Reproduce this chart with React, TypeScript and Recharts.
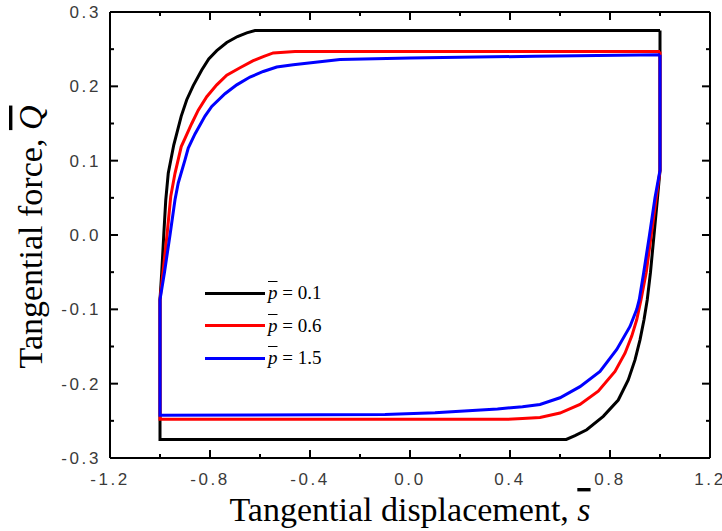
import React from 'react';
import { LineChart, Line, XAxis, YAxis, Legend } from 'recharts';

// ---- axis ticks ----
const xTicks = [-1.2, -1.0, -0.8, -0.6, -0.4, -0.2, 0, 0.2, 0.4, 0.6, 0.8, 1.0, 1.2];
const xTickLabels = ['-1.2', '', '-0.8', '', '-0.4', '', '0.0', '', '0.4', '', '0.8', '', '1.2'];
const yTicks = [-0.3, -0.25, -0.2, -0.15, -0.1, -0.05, 0, 0.05, 0.1, 0.15, 0.2, 0.25, 0.3];
const yTickLabels = ['-0.3', '', '-0.2', '', '-0.1', '', '0.0', '', '0.1', '', '0.2', '', '0.3'];

// ---- series names (p values) ----
const seriesNames = ['0.1', '0.6', '1.5'];

// ---- loop data: [s, Q] in drawing order ----
const loopP01: [number, number][] = [
  [1.0, 0.275], [-0.62, 0.275], [-0.653, 0.272], [-0.69, 0.267], [-0.733, 0.259],
  [-0.773, 0.248], [-0.805, 0.237], [-0.833, 0.222], [-0.867, 0.201], [-0.893, 0.182],
  [-0.915, 0.16], [-0.945, 0.121], [-0.967, 0.083], [-0.977, 0.047], [-0.985, 0.0],
  [-0.993, -0.05], [-1.0, -0.087], [-1.0, -0.275], [0.625, -0.275], [0.66, -0.27],
  [0.707, -0.262], [0.773, -0.244], [0.833, -0.222], [0.873, -0.195], [0.9, -0.168],
  [0.92, -0.141], [0.936, -0.114], [0.949, -0.087], [0.962, -0.05], [0.976, 0.0],
  [0.99, 0.05], [1.0, 0.087], [1.0, 0.275],
];

const loopP06: [number, number][] = [
  [1.0, 0.247], [-0.46, 0.247], [-0.547, 0.245], [-0.587, 0.24], [-0.627, 0.2345],
  [-0.68, 0.225], [-0.733, 0.215], [-0.773, 0.202], [-0.813, 0.186], [-0.847, 0.168],
  [-0.873, 0.15], [-0.9, 0.13], [-0.915, 0.119], [-0.94, 0.083], [-0.957, 0.052],
  [-0.972, 0.0], [-0.988, -0.05], [-1.0, -0.087], [-1.0, -0.248], [0.38, -0.248],
  [0.45, -0.247], [0.52, -0.2455], [0.6, -0.2395], [0.68, -0.228], [0.753, -0.21],
  [0.82, -0.1835], [0.86, -0.159], [0.887, -0.136], [0.907, -0.114], [0.924, -0.087],
  [0.945, -0.05], [0.965, 0.0], [0.985, 0.05], [1.0, 0.087], [1.0, 0.247],
];

const loopP15: [number, number][] = [
  [1.0, 0.2425], [0.5, 0.2405], [0.0, 0.238], [-0.28, 0.236], [-0.387, 0.232],
  [-0.467, 0.229], [-0.533, 0.226], [-0.587, 0.22], [-0.64, 0.2125], [-0.693, 0.202],
  [-0.74, 0.19], [-0.793, 0.173], [-0.82, 0.16], [-0.86, 0.136], [-0.887, 0.117],
  [-0.9, 0.101], [-0.927, 0.07], [-0.94, 0.0475], [-0.96, 0.0], [-0.982, -0.05],
  [-1.0, -0.087], [-1.0, -0.2425], [-0.1, -0.2415], [0.1, -0.239], [0.35, -0.234],
  [0.45, -0.231], [0.52, -0.228], [0.6, -0.219], [0.68, -0.204], [0.76, -0.1835],
  [0.827, -0.154], [0.88, -0.123], [0.907, -0.1], [0.917, -0.087], [0.935, -0.05],
  [0.958, 0.0], [0.98, 0.05], [1.0, 0.087], [1.0, 0.2425],
];

const toRows = (pts: [number, number][]) => pts.map(([s, q]) => ({ s, q }));

const colors = ['#000000', '#ff0000', '#0000ff'];
const loops = [loopP01, loopP06, loopP15];

const SERIF = '"Liberation Serif", "Times New Roman", serif';
const SANS = '"Liberation Sans", Arial, sans-serif';

const findIdx = (arr: number[], v: number) => arr.findIndex((t) => Math.abs(t - v) < 1e-9);

const BottomTick = (props: any) => {
  const { x, y, payload } = props;
  const i = findIdx(xTicks, payload.value);
  const label = xTickLabels[i] || '';
  const major = label !== '';
  return (
    <g>
      <line x1={x} y1={y} x2={x} y2={y - (major ? 8 : 4)} stroke="#000" strokeWidth={2} />
      {major && (
        <text x={x} y={y + 27} textAnchor="middle" fontFamily={SANS} fontSize={17} fill="#3a3a3a" letterSpacing={2.6}>
          {label}
        </text>
      )}
    </g>
  );
};

const TopTick = (props: any) => {
  const { x, y, payload } = props;
  const i = findIdx(xTicks, payload.value);
  const major = (xTickLabels[i] || '') !== '';
  return <line x1={x} y1={y} x2={x} y2={y + (major ? 8 : 4)} stroke="#000" strokeWidth={2} />;
};

const LeftTick = (props: any) => {
  const { x, y, payload } = props;
  const i = findIdx(yTicks, payload.value);
  const label = yTickLabels[i] || '';
  const major = label !== '';
  return (
    <g>
      <line x1={x} y1={y} x2={x + (major ? 8 : 4)} y2={y} stroke="#000" strokeWidth={2} />
      {major && (
        <text x={x - 9} y={y + 6} textAnchor="end" fontFamily={SANS} fontSize={17} fill="#3a3a3a" letterSpacing={2.6}>
          {label}
        </text>
      )}
    </g>
  );
};

const RightTick = (props: any) => {
  const { x, y, payload } = props;
  const i = findIdx(yTicks, payload.value);
  const major = (yTickLabels[i] || '') !== '';
  return <line x1={x} y1={y} x2={x - (major ? 8 : 4)} y2={y} stroke="#000" strokeWidth={2} />;
};

const XTitle = (props: any) => {
  const vb = props.viewBox || { x: 110, y: 458, width: 600, height: 73 };
  const cx = vb.x + vb.width / 2;
  return (
    <text x={cx} y={vb.y + 63} textAnchor="middle" fontFamily={SERIF} fontSize={34} fill="#000">
      Tangential displacement,{' '}
      <tspan fontStyle="italic" style={{ textDecoration: 'overline' }}>s</tspan>
    </text>
  );
};

const YTitle = (props: any) => {
  const vb = props.viewBox || { x: 0, y: 12, width: 110, height: 446 };
  const cx = 42;
  const cy = vb.y + vb.height / 2 + 2;
  return (
    <text x={cx} y={cy} textAnchor="middle" transform={`rotate(-90, ${cx}, ${cy})`} fontFamily={SERIF} fontSize={34} fill="#000">
      Tangential force,{' '}
      <tspan fontStyle="italic" style={{ textDecoration: 'overline' }}>Q</tspan>
    </text>
  );
};

const renderLegend = (props: any) => {
  const payload = props.payload || [];
  return (
    <div>
      {payload.map((p: any, i: number) => (
        <div key={i} style={{ display: 'flex', alignItems: 'center', height: 32.5 }}>
          <div style={{ width: 60, height: 3, background: p.color }} />
          <span style={{ marginLeft: 3, fontFamily: SERIF, fontSize: 19, color: '#000', whiteSpace: 'nowrap' }}>
            <span style={{ fontStyle: 'italic', textDecoration: 'overline' }}>p</span> = {p.value}
          </span>
        </div>
      ))}
    </div>
  );
};

export default function App() {
  return (
    <div style={{ position: 'absolute', left: 0, top: 0, width: 722, height: 531, background: '#fff' }}>
      <LineChart width={722} height={531} margin={{ top: 11, right: 11, bottom: 0, left: 0 }}>
        <XAxis
          xAxisId={0}
          type="number"
          dataKey="s"
          domain={[-1.2, 1.2]}
          ticks={xTicks}
          interval={0}
          allowDataOverflow
          height={73}
          tickSize={0}
          tickMargin={0}
          tick={<BottomTick />}
          axisLine={{ stroke: '#000', strokeWidth: 2 }}
          label={<XTitle />}
        />
        <XAxis
          xAxisId="top"
          orientation="top"
          type="number"
          dataKey="s"
          domain={[-1.2, 1.2]}
          ticks={xTicks}
          interval={0}
          allowDataOverflow
          height={1}
          tickSize={0}
          tickMargin={0}
          tick={<TopTick />}
          axisLine={{ stroke: '#000', strokeWidth: 2 }}
        />
        <YAxis
          yAxisId={0}
          type="number"
          dataKey="q"
          domain={[-0.3, 0.3]}
          ticks={yTicks}
          interval={0}
          allowDataOverflow
          width={110}
          tickSize={0}
          tickMargin={0}
          tick={<LeftTick />}
          axisLine={{ stroke: '#000', strokeWidth: 2 }}
          label={<YTitle />}
        />
        <YAxis
          yAxisId="right"
          orientation="right"
          type="number"
          dataKey="q"
          domain={[-0.3, 0.3]}
          ticks={yTicks}
          interval={0}
          allowDataOverflow
          width={1}
          tickSize={0}
          tickMargin={0}
          tick={<RightTick />}
          axisLine={{ stroke: '#000', strokeWidth: 2 }}
        />
        {loops.map((pts, i) => (
          <Line
            key={seriesNames[i]}
            name={seriesNames[i]}
            data={toRows(pts)}
            dataKey="q"
            xAxisId={0}
            yAxisId={0}
            type="linear"
            stroke={colors[i]}
            strokeWidth={3}
            dot={false}
            activeDot={false}
            isAnimationActive={false}
          />
        ))}
        <Legend
          layout="vertical"
          align="center"
          verticalAlign="middle"
          wrapperStyle={{ left: 205, top: 276.75, width: 'auto' }}
          content={renderLegend}
        />
      </LineChart>
    </div>
  );
}
